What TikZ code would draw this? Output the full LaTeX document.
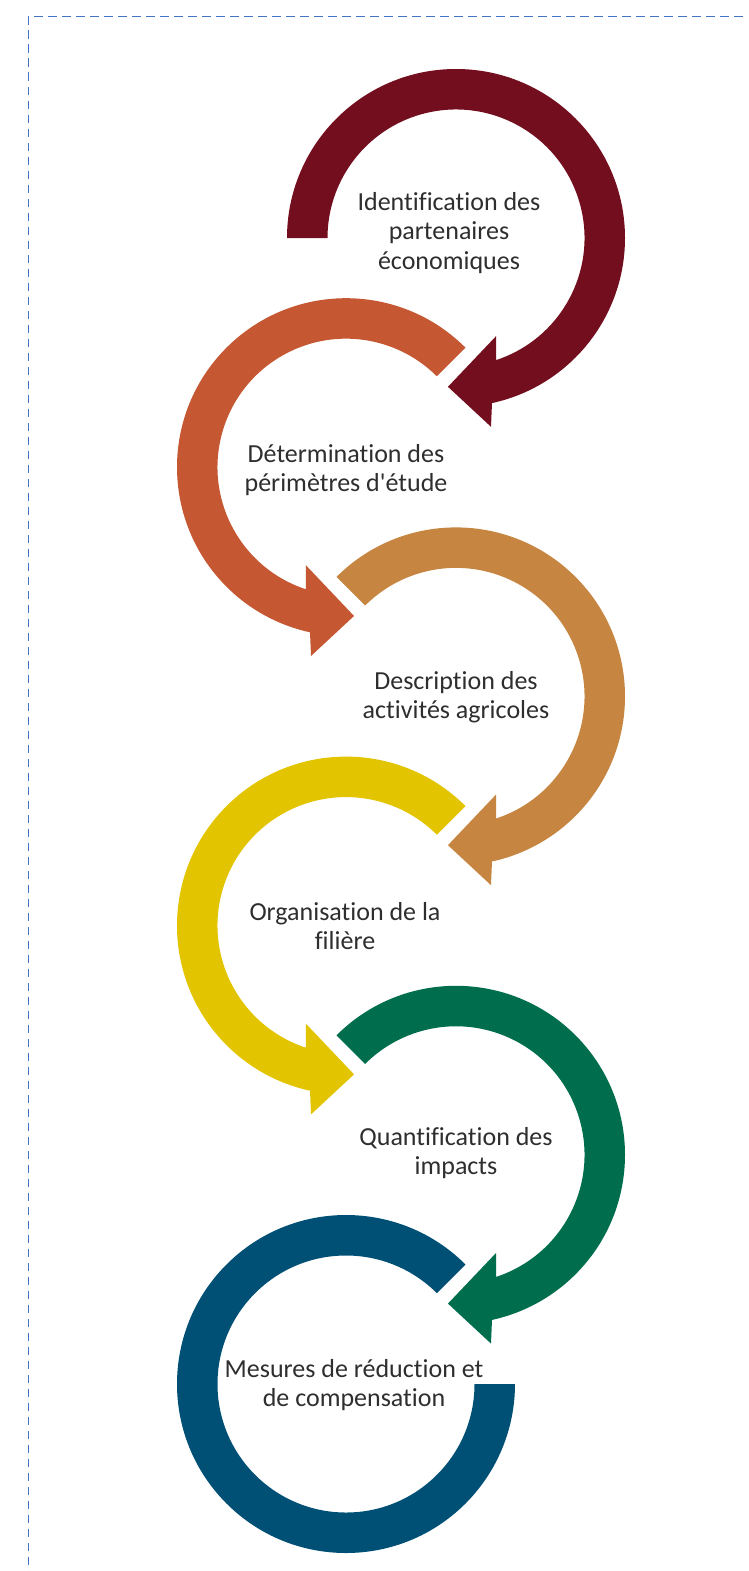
\documentclass[tikz,border=0pt]{standalone}
\usepackage{fontspec}
\setmainfont{Carlito}[Ligatures={NoCommon}]
\definecolor{stepmaroon}{RGB}{115, 14, 30}
\definecolor{steprust}{RGB}{197, 88, 51}
\definecolor{stepochre}{RGB}{198, 134, 66}
\definecolor{stepgold}{RGB}{226, 196, 0}
\definecolor{stepgreen}{RGB}{0, 110, 76}
\definecolor{stepnavy}{RGB}{0, 79, 116}
\definecolor{frameblue}{RGB}{68, 114, 196}

\begin{document}
\begin{tikzpicture}[
  x=1pt, y=1pt,
  steplabel/.style={align=center, font=\fontsize{26}{29.5}\selectfont, text=black!82, inner sep=0pt},
  frameline/.style={draw=frameblue, line width=1.9pt, dash pattern=on 8.3pt off 5.7pt},
  pics/turn/.style={code={
    \fill[pic actions] (#1:169) arc[start angle=#1, end angle=-77.7, radius=169]
      -- (-79.5:192) -- (-93.1:149) -- (-67.8:106) -- (-71.8:128.5)
      arc[start angle=-71.8, end angle=#1, radius=128.5] -- cycle;
  }}
]
  \useasboundingbox (0,0) rectangle (748,-1571);

  % Dashed frame
  \draw[frameline] (28.5,-16.5) -- (28.5,-1571);
  \draw[frameline, dash phase=8.3pt] (28.5,-16.5) -- (748,-16.5);

  % Step 1
  \pic[fill=stepmaroon] at (456,-238) {turn=180};
  \node[steplabel] (partners) at (449,-233) {Identification des\\partenaires\\économiques};

  % Step 2
  \pic[fill=steprust, xscale=-1] at (346,-467.2) {turn=135};
  \node[steplabel] (perimeter) at (346,-470) {Détermination des\\périmètres d\textquotesingle étude};

  % Step 3
  \pic[fill=stepochre] at (456,-696.4) {turn=135};
  \node[steplabel] (farming) at (456,-697) {Description des\\activités agricoles};

  % Step 4
  \pic[fill=stepgold, xscale=-1] at (346,-925.6) {turn=135};
  \node[steplabel] (sector) at (345,-926) {Organisation de la\\filière};

  % Step 5
  \pic[fill=stepgreen] at (456,-1154.8) {turn=135};
  \node[steplabel] (impacts) at (456,-1153) {Quantification des\\impacts};

  % Step 6: closing ring, no head
  \fill[stepnavy] (346,-1384) ++(45:169) arc[start angle=45, end angle=360, radius=169]
    -- ++(-40.5,0) arc[start angle=360, end angle=45, radius=128.5] -- cycle;
  \node[steplabel] (measures) at (354,-1385) {Mesures de réduction et\\de compensation};
\end{tikzpicture}
\end{document}
